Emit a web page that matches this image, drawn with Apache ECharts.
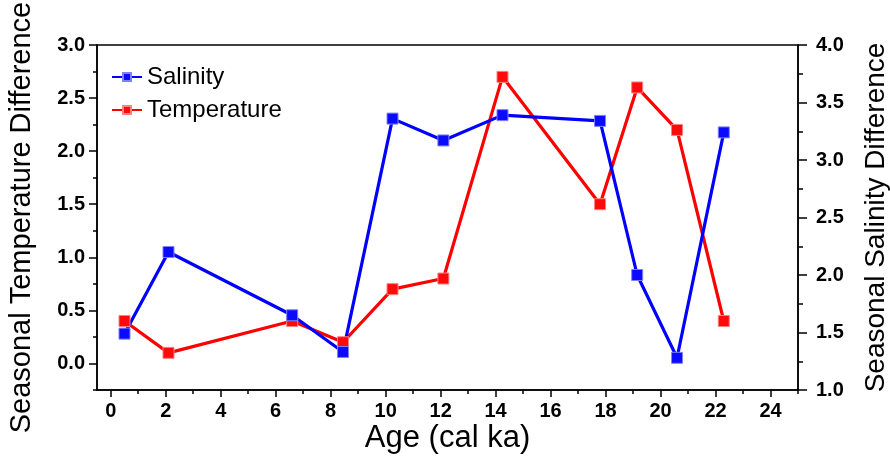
<!DOCTYPE html>
<html>
<head>
<meta charset="utf-8">
<script src="https://cdn.jsdelivr.net/npm/echarts@6/dist/echarts.min.js"></script>
<style>
  html, body { margin: 0; padding: 0; background: #fff; }
  #chart { width: 890px; height: 470px; }
</style>
</head>
<body>
<div id="chart"></div>
<script>
// ages shared by both records (cal ka)
const ages = [0.5, 2.1, 6.6, 8.45, 10.25, 12.1, 14.25, 17.8, 19.15, 20.6, 22.3];
const temperature = [0.4, 0.1, 0.4, 0.2, 0.7, 0.8, 2.7, 1.5, 2.6, 2.2, 0.4];
const salinity = [1.49, 2.2, 1.65, 1.33, 3.36, 3.17, 3.39, 3.34, 2.0, 1.28, 3.24];

const xMajor = [0, 2, 4, 6, 8, 10, 12, 14, 16, 18, 20, 22, 24];
const xMinor = [1, 3, 5, 7, 9, 11, 13, 15, 17, 19, 21, 23, 25];
const tempMajor = [0, 0.5, 1, 1.5, 2, 2.5, 3];
const tempMinor = [-0.25, 0.25, 0.75, 1.25, 1.75, 2.25, 2.75];

const FONT = '"Liberation Sans", Arial, sans-serif';
const chart = echarts.init(document.getElementById('chart'));

const tickLabel = { color: '#000', fontFamily: FONT, fontWeight: 'bold', fontSize: 20 };
const axisLine = { show: true, onZero: false, lineStyle: { color: '#000', width: 1.5 } };
const tickStyle = { color: '#000', width: 1.5 };

const pairs = (ys) => ages.map((a, i) => [a, ys[i]]);

chart.setOption({
    animation: false,
    backgroundColor: '#fff',
    grid: {
        left: 97, right: 92, top: 45, bottom: 80,
        containLabel: false, outerBoundsMode: 'none',
        show: true, borderColor: '#000', borderWidth: 1.5
    },
    legend: {
        data: ['Salinity', 'Temperature'],
        orient: 'vertical',
        left: 106, top: 60,
        itemWidth: 30, itemHeight: 10, itemGap: 9,
        textStyle: { fontFamily: FONT, fontSize: 24, color: '#000' }
    },
    xAxis: [
        {
            type: 'value', min: -0.5, max: 25,
            name: 'Age (cal ka)', nameLocation: 'middle', nameGap: 33,
            nameMoveOverlap: false,
            nameTextStyle: { fontFamily: FONT, fontSize: 31, color: '#000' },
            axisLine: axisLine,
            axisTick: { show: true, length: 7, customValues: xMajor, lineStyle: tickStyle },
            axisLabel: Object.assign({ margin: 11, customValues: xMajor }, tickLabel),
            splitLine: { show: false }
        },
        {
            type: 'value', min: -0.5, max: 25, position: 'bottom',
            axisLine: { show: false, onZero: false },
            axisTick: { show: true, length: 4, customValues: xMinor, lineStyle: tickStyle },
            axisLabel: { show: false },
            splitLine: { show: false }
        }
    ],
    yAxis: [
        {
            type: 'value', min: -0.25, max: 3, position: 'left',
            name: 'Seasonal Temperature Difference', nameLocation: 'middle', nameGap: 61,
            nameMoveOverlap: false,
            nameTextStyle: { fontFamily: FONT, fontSize: 29, color: '#000' },
            axisLine: axisLine,
            axisTick: { show: true, length: 8, customValues: tempMajor, lineStyle: tickStyle },
            axisLabel: Object.assign({ margin: 12, customValues: tempMajor, formatter: v => v.toFixed(1) }, tickLabel),
            splitLine: { show: false }
        },
        {
            type: 'value', min: 1, max: 4, interval: 0.5, position: 'right',
            name: 'Seasonal Salinity Difference', nameLocation: 'middle', nameGap: 64,
            nameMoveOverlap: false,
            nameTextStyle: { fontFamily: FONT, fontSize: 28, color: '#000' },
            axisLine: axisLine,
            axisTick: { show: true, length: 9, lineStyle: tickStyle },
            minorTick: { show: true, splitNumber: 2, length: 5, lineStyle: tickStyle },
            axisLabel: Object.assign({ margin: 18, formatter: v => v.toFixed(1) }, tickLabel),
            splitLine: { show: false }
        },
        {
            type: 'value', min: -0.25, max: 3, position: 'left',
            axisLine: { show: false, onZero: false },
            axisTick: { show: true, length: 4, customValues: tempMinor, lineStyle: tickStyle },
            axisLabel: { show: false },
            splitLine: { show: false }
        }
    ],
    series: [
        {
            name: 'Temperature', type: 'line',
            xAxisIndex: 0, yAxisIndex: 0,
            data: pairs(temperature),
            color: '#ff0000',
            symbol: 'rect', symbolSize: 11,
            lineStyle: { width: 3.2, color: '#ff0000' },
            itemStyle: { color: '#ff0a0a', borderColor: '#ff8080', borderWidth: 1 }
        },
        {
            name: 'Salinity', type: 'line',
            xAxisIndex: 0, yAxisIndex: 1,
            data: pairs(salinity),
            color: '#0000ff',
            symbol: 'rect', symbolSize: 11,
            lineStyle: { width: 3.2, color: '#0000ff' },
            itemStyle: { color: '#0a0aff', borderColor: '#8080ff', borderWidth: 1 }
        }
    ]
});
</script>
</body>
</html>
